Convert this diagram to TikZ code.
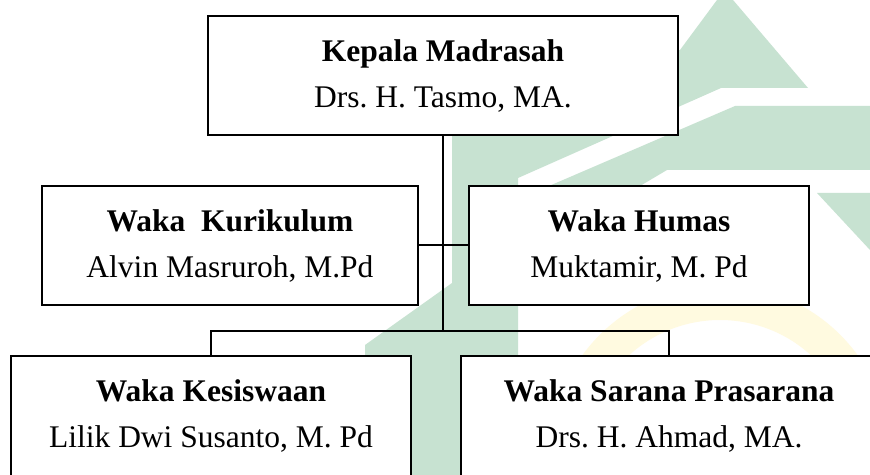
\documentclass[tikz,border=0pt]{standalone}
\usepackage{fontspec}
\setmainfont{Liberation Serif}
\frenchspacing
\definecolor{wmgreen}{HTML}{C7E2D1}
\definecolor{wmyellow}{HTML}{FFFAE0}
\begin{document}
\begin{tikzpicture}[x=0.5pt,y=-0.5pt,
  box/.style={draw=black, line width=1pt, fill=white, align=center, inner sep=0pt,
    minimum height=59.5pt, font=\fontsize{15.75}{23}\selectfont},
  openbox/.style={draw=none, fill=white, align=center, inner sep=0pt,
    minimum height=59.5pt, font=\fontsize{15.75}{23}\selectfont},
  frame/.style={draw=black, line width=1pt},
  conn/.style={draw=black, line width=1pt},
  wm/.style={fill=wmgreen, draw=none}]
\useasboundingbox (0,0) rectangle (870,475);
\clip (0,0) rectangle (870,475);
\fill[white] (0,0) rectangle (870,475);
% watermark
\fill[wm] (717,0) -- (733,0) -- (808,88) -- (721,88) -- (518,178) -- (518,475)
  -- (365,475) -- (365,345) -- (452,283) -- (452,100) -- (680,50) -- cycle;
\fill[wm] (735,106) -- (870,106) -- (870,170) -- (667,170) -- (640,186) -- (549,186) -- cycle;
\fill[wm] (817,193) -- (870,193) -- (870,250) -- cycle;
\fill[wmyellow, even odd rule] (720,455) circle[radius=170] (720,455) circle[radius=135];
% nodes
\node[box, minimum width=235pt] (kepala) at (443,75.5)
  {\textbf{Kepala Madrasah}\\Drs. H. Tasmo, MA.};
\node[box, minimum width=188pt] (kur) at (230,245.5)
  {\textbf{Waka~~Kurikulum}\\Alvin Masruroh, M.Pd};
\node[box, minimum width=170pt] (hum) at (639,245.5)
  {\textbf{Waka Humas}\\Muktamir, M. Pd};
\node[openbox, minimum width=200pt] (kes) at (211,415.5)
  {\textbf{Waka Kesiswaan}\\Lilik Dwi Susanto, M. Pd};
\node[openbox, minimum width=208pt] (sar) at (669,415.5)
  {\textbf{Waka Sarana Prasarana}\\Drs. H. Ahmad, MA.};
\draw[frame] ([yshift=-20pt]kes.south west) -- (kes.north west) -- (kes.north east) -- ([yshift=-20pt]kes.south east);
\draw[frame] ([yshift=-20pt]sar.south west) -- (sar.north west) -- (sar.north east) -- ([yshift=-20pt]sar.south east);
% connectors
\coordinate (bus) at (443,331);
\draw[conn] (kepala.south) -- (bus);
\draw[conn] (kur.east) -- (hum.west);
\draw[conn] (kes.north) |- (bus) -| (sar.north);
\end{tikzpicture}
\end{document}
